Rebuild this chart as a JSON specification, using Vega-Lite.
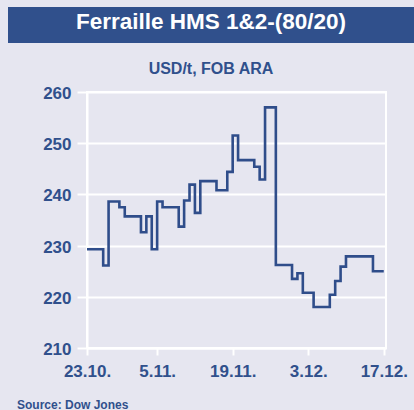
{
  "$schema": "https://vega.github.io/schema/vega-lite/v6.json",
  "background": "#e6e6f0",
  "padding": {"left": 8, "top": 7, "right": 0, "bottom": 0},
  "spacing": 6,
  "config": {
    "font": "Liberation Sans, Arial, sans-serif"
  },
  "vconcat": [
    {
      "width": 406,
      "height": 36,
      "view": {"fill": "#30508c", "stroke": null},
      "title": {
        "text": "USD/t, FOB ARA",
        "orient": "bottom",
        "anchor": "middle",
        "offset": 18,
        "fontSize": 16,
        "fontWeight": "bold",
        "color": "#30508c",
        "font": "Liberation Sans, Arial, sans-serif"
      },
      "data": {"values": [{"label": "Ferraille HMS 1&2-(80/20)"}]},
      "mark": {
        "type": "text",
        "color": "white",
        "fontSize": 22.5,
        "fontWeight": "bold",
        "baseline": "alphabetic",
        "dy": 4,
        "font": "Liberation Sans, Arial, sans-serif"
      },
      "encoding": {"text": {"field": "label"}}
    },
    {
      "spacing": 0,
      "hconcat": [
        {
          "width": 1,
          "height": 256,
          "view": {"fill": null, "stroke": null},
          "data": {"values": []},
          "mark": {"type": "point", "opacity": 0}
        },
        {
          "width": 299,
          "height": 256,
          "view": {"stroke": "white", "strokeWidth": 2},
          "title": {
            "text": "Source: Dow Jones",
            "orient": "bottom",
            "anchor": "start",
            "frame": "bounds",
            "dx": 7,
            "offset": 21,
            "fontSize": 12,
            "fontWeight": "bold",
            "color": "#30508c",
            "font": "Liberation Sans, Arial, sans-serif"
          },
          "data": {
            "values": [
              {"date": "2018-10-23", "price": 229.3},
              {"date": "2018-10-26", "price": 226.1},
              {"date": "2018-10-27", "price": 238.6},
              {"date": "2018-10-29", "price": 237.5},
              {"date": "2018-10-30", "price": 235.7},
              {"date": "2018-11-02", "price": 232.6},
              {"date": "2018-11-03", "price": 235.7},
              {"date": "2018-11-04", "price": 229.3},
              {"date": "2018-11-05", "price": 238.6},
              {"date": "2018-11-06", "price": 237.5},
              {"date": "2018-11-09", "price": 233.7},
              {"date": "2018-11-10", "price": 238.8},
              {"date": "2018-11-11", "price": 241.9},
              {"date": "2018-11-12", "price": 236.4},
              {"date": "2018-11-13", "price": 242.6},
              {"date": "2018-11-16", "price": 240.8},
              {"date": "2018-11-18", "price": 244.4},
              {"date": "2018-11-19", "price": 251.5},
              {"date": "2018-11-20", "price": 246.7},
              {"date": "2018-11-23", "price": 245.4},
              {"date": "2018-11-24", "price": 242.9},
              {"date": "2018-11-25", "price": 257.0},
              {"date": "2018-11-27", "price": 226.2},
              {"date": "2018-11-30", "price": 223.5},
              {"date": "2018-12-01", "price": 224.6},
              {"date": "2018-12-02", "price": 220.8},
              {"date": "2018-12-04", "price": 218.0},
              {"date": "2018-12-07", "price": 220.4},
              {"date": "2018-12-08", "price": 223.1},
              {"date": "2018-12-09", "price": 225.9},
              {"date": "2018-12-10", "price": 227.9},
              {"date": "2018-12-15", "price": 225.0},
              {"date": "2018-12-17", "price": 225.0}
            ]
          },
          "mark": {"type": "line", "interpolate": "step-after", "color": "#2f4d8a", "strokeWidth": 2.6},
          "encoding": {
            "x": {
              "field": "date",
              "type": "temporal",
              "scale": {
                "type": "utc",
                "domain": [
                  {"year": 2018, "month": 10, "date": 23, "utc": true},
                  {"year": 2018, "month": 12, "date": 17, "hours": 10, "utc": true}
                ]
              },
              "axis": {
                "title": null,
                "values": [
                  {"year": 2018, "month": 10, "date": 23, "utc": true},
                  {"year": 2018, "month": 11, "date": 5, "utc": true},
                  {"year": 2018, "month": 11, "date": 19, "utc": true},
                  {"year": 2018, "month": 12, "date": 3, "utc": true},
                  {"year": 2018, "month": 12, "date": 17, "utc": true}
                ],
                "labelExpr": "utcFormat(datum.value, '%-d.%m.')",
                "grid": false,
                "domainColor": "white",
                "domainWidth": 2,
                "tickColor": "white",
                "tickWidth": 2,
                "tickSize": 7,
                "labelPadding": 8,
                "labelFontSize": 17,
                "labelFontWeight": "bold",
                "labelColor": "#30508c",
                "labelOverlap": false,
                "labelFlush": false
              }
            },
            "y": {
              "field": "price",
              "type": "quantitative",
              "scale": {"domain": [210, 260], "zero": false, "nice": false},
              "axis": {
                "title": null,
                "values": [210, 220, 230, 240, 250, 260],
                "grid": true,
                "gridColor": "white",
                "gridWidth": 2,
                "gridOpacity": 1,
                "domainColor": "white",
                "domainWidth": 2,
                "tickColor": "white",
                "tickWidth": 2,
                "tickSize": 10,
                "labelPadding": 6,
                "labelFontSize": 17,
                "labelFontWeight": "bold",
                "labelColor": "#30508c",
                "labelOffset": 1.5,
                "minExtent": 77
              }
            }
          }
        }
      ]
    }
  ]
}
